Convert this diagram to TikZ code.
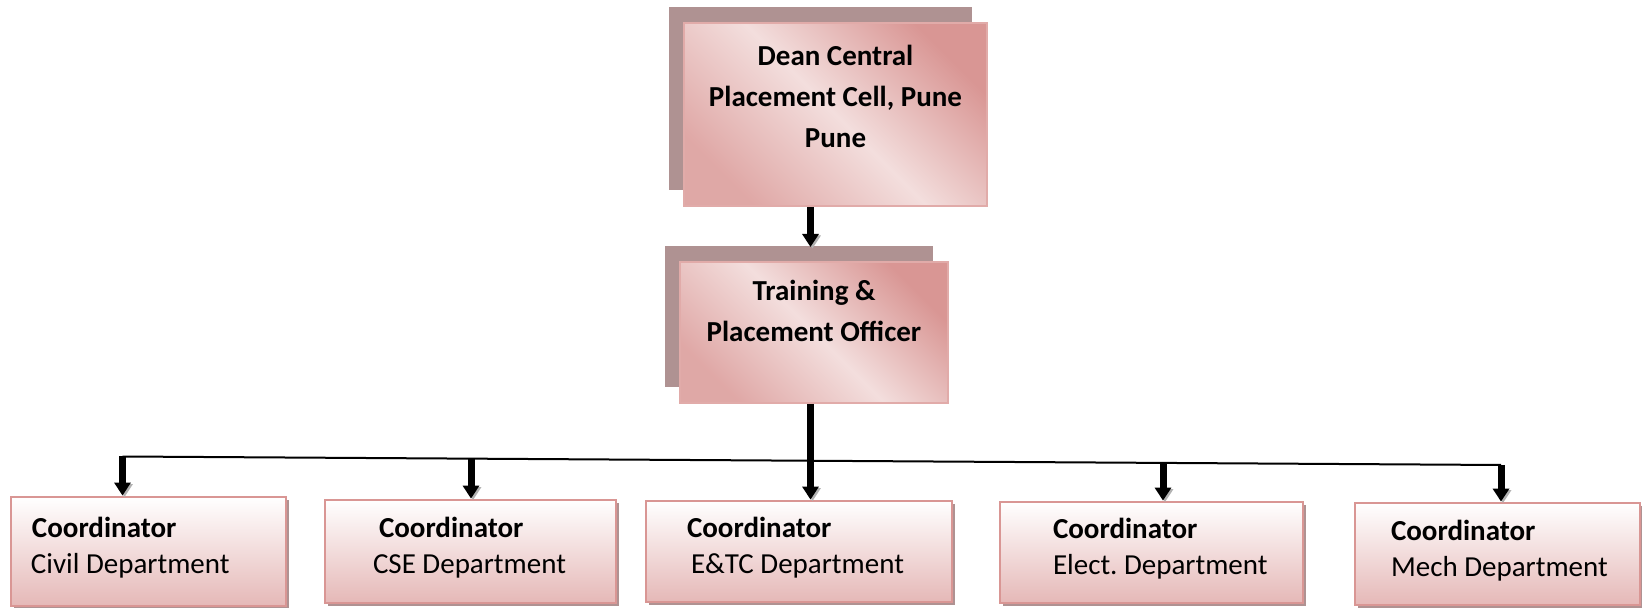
\documentclass[tikz,border=0pt]{standalone}
\usepackage{fontspec}
\setmainfont{Carlito}
\usepackage{tikz}
\usetikzlibrary{arrows.meta, shadows}

\definecolor{rosedark}{RGB}{217,150,148}
\definecolor{roselight}{RGB}{243,222,221}
\definecolor{rosebottom}{RGB}{229,184,183}
\definecolor{mauve}{RGB}{175,146,146}

\begin{document}
\begin{tikzpicture}[x=0.5pt, y=-0.5pt]
	\tikzstyle{head} = [rectangle, draw=rosedark!80!white, line width=1pt, 
	top color=rosedark, bottom color=rosedark!75!roselight, middle color=roselight, 
	shading angle=-45, align=center, text depth=3pt, 
	font=\bfseries\fontsize{14.5}{20.5}\selectfont, 
	general shadow={fill=mauve, shadow xshift=-7.5pt, shadow yshift=7.75pt}]
	\tikzstyle{member} = [rectangle, draw=rosedark, line width=1.4pt, 
	top color=white, bottom color=rosebottom, align=flush left, inner xsep=2pt, 
	text height=10pt, text depth=24pt, font=\fontsize{14.5}{18}\selectfont, 
	general shadow={fill=mauve, shadow xshift=1.5pt, shadow yshift=-1.5pt}]
	\tikzstyle{arrow} = [line width=3.5pt, -{Triangle[width=8pt,length=6.5pt]}, 
	preaction={draw=black!30, transform canvas={xshift=1pt,yshift=-0.75pt}}]
	\useasboundingbox (0,0) rectangle (1642,608);
	\node (dean) [head, minimum width=151.5pt, minimum height=91.5pt, text height=36.5pt] at (835.5,114.5) {Dean Central\\Placement Cell, Pune\\Pune};
	\node (tpo) [head, minimum width=134pt, minimum height=70.5pt, text height=12.5pt] at (814,332.5) {Training \&\\Placement Officer};
	\node (civil) [member, minimum width=137.5pt, minimum height=54.5pt, text width=133.5pt] at (148.5,551.5) {\hspace*{8.5pt}\textbf{Coordinator}\\\hspace*{8pt}Civil Department};
	\node (cse) [member, minimum width=145.5pt, minimum height=51.5pt, text width=141.5pt] at (470.5,551.5) {\hspace*{25pt}\textbf{Coordinator}\\\hspace*{22pt}CSE Department};
	\node (etc) [member, minimum width=153pt, minimum height=50.5pt, text width=149pt] at (799,551.5) {\hspace*{18.5pt}\textbf{Coordinator}\\\hspace*{20.5pt}E\&TC Department};
	\node (elect) [member, minimum width=151.5pt, minimum height=50.5pt, text width=147.5pt] at (1151.5,552.5) {\hspace*{24.5pt}\textbf{Coordinator}\\\hspace*{24.5pt}Elect.\ Department};
	\node (mech) [member, minimum width=142.5pt, minimum height=51pt, text width=138.5pt] at (1497.5,554) {\hspace*{16pt}\textbf{Coordinator}\\\hspace*{16pt}Mech Department};
	\coordinate (busL) at (122.5,456.5);
	\coordinate (busR) at (1501,465);
	\coordinate (drop2) at (471,458.5);
	\coordinate (drop3) at (810.5,460.5);
	\coordinate (drop4) at (1163,463);
	\coordinate (tpoTop) at (810.5,247);
	\draw [line width=1pt] (busL) -- (busR);
	\draw [arrow] (drop3 |- dean.south) -- (tpoTop);
	\draw [arrow] (drop3 |- tpo.south) -- (drop3 |- etc.north);
	\draw [arrow] (busL) -- (busL |- civil.north);
	\draw [arrow] (drop2) -- (drop2 |- cse.north);
	\draw [arrow] (drop4) -- (drop4 |- elect.north);
	\draw [arrow] (busR) -- (busR |- mech.north);
\end{tikzpicture}
\end{document}
